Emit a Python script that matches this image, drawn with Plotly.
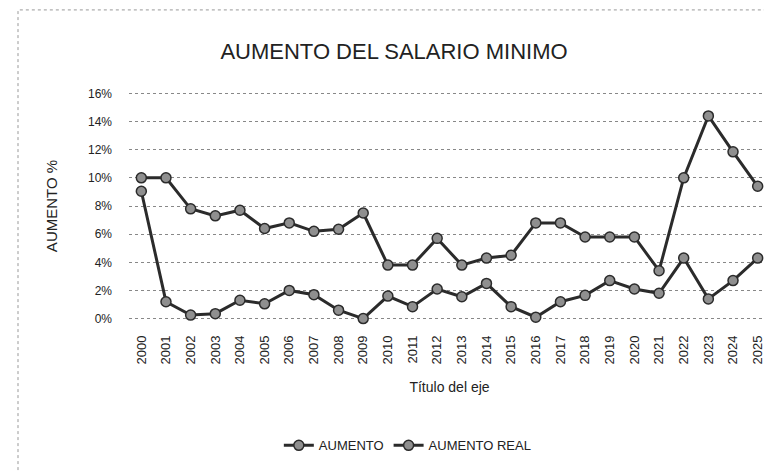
import plotly.graph_objects as go

years = [str(y) for y in range(2000, 2026)]
aumento = [10.0, 10.0, 7.8, 7.3, 7.7, 6.4, 6.8, 6.2, 6.35, 7.5, 3.8, 3.8, 5.7, 3.8, 4.3, 4.5,
           6.8, 6.8, 5.8, 5.8, 5.8, 3.4, 10.0, 14.4, 11.85, 9.4]
aumento_real = [9.05, 1.2, 0.25, 0.35, 1.3, 1.05, 2.0, 1.7, 0.6, 0.0, 1.6, 0.85, 2.1, 1.55, 2.5, 0.85,
                0.1, 1.2, 1.65, 2.7, 2.1, 1.8, 4.3, 1.4, 2.7, 4.3]
yticks = [0, 2, 4, 6, 8, 10, 12, 14, 16]
ytick_labels = ["0%", "2%", "4%", "6%", "8%", "10%", "12%", "14%", "16%"]

FONT = "Liberation Sans"
LINE = "#2b2b2b"
MARK = "#8f8f8f"

fig = go.Figure()
for name, vals in [("AUMENTO", aumento), ("AUMENTO REAL", aumento_real)]:
    fig.add_trace(go.Scatter(
        x=years, y=vals, name=name, mode="lines+markers",
        line=dict(color=LINE, width=3),
        marker=dict(symbol="circle", size=10, color=MARK, line=dict(color=LINE, width=1.5)),
        cliponaxis=False,
    ))

fig.update_layout(
    width=772, height=472,
    margin=dict(l=121, r=10, t=84, b=160),
    paper_bgcolor="white", plot_bgcolor="white",
    font=dict(family=FONT, color="#222", size=12),
    title=dict(text="AUMENTO DEL SALARIO MINIMO", x=0.5, xanchor="center",
               y=1 - 43 / 472, yanchor="middle",
               font=dict(family=FONT, size=22, color="#222")),
    showlegend=True,
    legend=dict(orientation="h", x=0.435, xanchor="center", y=-0.55, yanchor="middle",
                font=dict(family=FONT, size=13, color="#222"), bgcolor="rgba(0,0,0,0)"),
    xaxis=dict(type="category", range=[-0.5, 25.5], tickangle=-90, showgrid=False,
               showline=False, zeroline=False, ticks="", ticklabelstandoff=12,
               tickfont=dict(family=FONT, size=13, color="#222"),
               title=dict(text="Título del eje", standoff=18,
                          font=dict(family=FONT, size=14, color="#222"))),
    yaxis=dict(range=[-0.1, 16.1], tickmode="array", tickvals=yticks, ticktext=ytick_labels,
               showgrid=True, gridcolor="#888", griddash="dot", gridwidth=1, zeroline=False,
               showline=False, ticks="", ticklabelstandoff=16,
               tickfont=dict(family=FONT, size=12, color="#222"),
               title=dict(text="AUMENTO %", standoff=26,
                          font=dict(family=FONT, size=15, color="#222"))),
)

fig.add_shape(type="rect", xref="paper", yref="paper",
              x0=(10 - 121) / 641, x1=(768 - 121) / 641,
              y0=-0.67, y1=1.36,
              line=dict(color="#999", width=1, dash="dot"), layer="below")

fig.write_html("out.html")
